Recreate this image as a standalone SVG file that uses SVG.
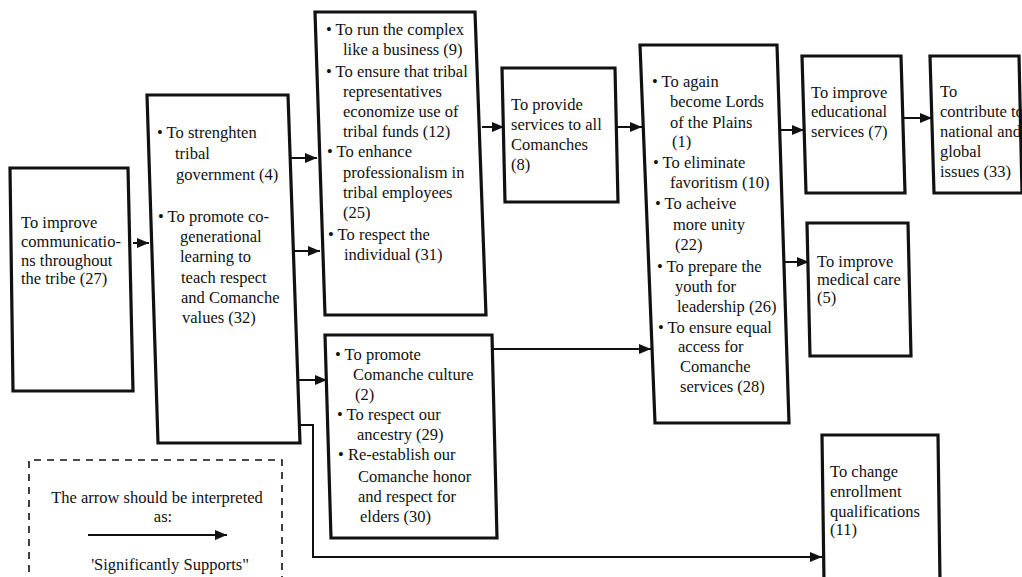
<svg xmlns="http://www.w3.org/2000/svg" width="1022" height="577" viewBox="0 0 1022 577">
<style>
.box{fill:#fff;stroke:#111;stroke-width:3.2;stroke-linejoin:miter}
.t{font-family:"Liberation Serif","Times New Roman",serif;font-size:16.5px;fill:#111}
.c{fill:none;stroke:#111;stroke-width:2;marker-end:url(#ah)}
.leg{fill:none;stroke:#111;stroke-width:1.6;stroke-dasharray:7 6}
</style>
<defs>
<marker id="ah" markerUnits="userSpaceOnUse" markerWidth="12" markerHeight="10" refX="12" refY="5" orient="auto">
<path d="M0,0 L12,5 L0,10 z" fill="#111"/>
</marker>
</defs>
<rect width="1022" height="577" fill="#fff"/>

<g id="connectors">
<path class="c" d="M133,243 H149"/>
<path class="c" d="M290,158 H317"/>
<path class="c" d="M294,251 H320"/>
<path class="c" d="M298,380 H327"/>
<path class="c" d="M300,425 H313 V557 H822"/>
<path class="c" d="M482,127 H504"/>
<path class="c" d="M617,127 H642"/>
<path class="c" d="M493,349 H651"/>
<path class="c" d="M780,130 H804"/>
<path class="c" d="M785,262 H809"/>
<path class="c" d="M904,118 H932"/>
</g>

<g id="node-communications">
<polygon class="box" points="10,168 128,168 133,391 13,391"/>
<text class="t"><tspan x="21" y="228">To improve</tspan><tspan x="21" y="247">communicatio-</tspan><tspan x="21" y="266">ns throughout</tspan><tspan x="21" y="284">the tribe (27)</tspan></text>
</g>

<g id="node-government">
<polygon class="box" points="147,95 288,95 300,443 158,443"/>
<text class="t"><tspan x="157" y="138">• To strenghten</tspan><tspan x="175" y="159">tribal</tspan><tspan x="176" y="180">government (4)</tspan><tspan x="158" y="222">• To promote co-</tspan><tspan x="180" y="242">generational</tspan><tspan x="180" y="262">learning to</tspan><tspan x="181" y="283">teach respect</tspan><tspan x="181" y="303">and Comanche</tspan><tspan x="182" y="323">values (32)</tspan></text>
</g>

<g id="node-business">
<polygon class="box" points="315,12 475,12 486,315 325,315"/>
<text class="t"><tspan x="326" y="35">• To run the complex</tspan><tspan x="343" y="55">like a business (9)</tspan><tspan x="326" y="77">• To ensure that tribal</tspan><tspan x="343" y="97">representatives</tspan><tspan x="343" y="117">economize use of</tspan><tspan x="343" y="137">tribal funds (12)</tspan><tspan x="327" y="157">• To enhance</tspan><tspan x="343" y="178">professionalism in</tspan><tspan x="343" y="198">tribal employees</tspan><tspan x="343" y="218">(25)</tspan><tspan x="328" y="240">• To respect the</tspan><tspan x="344" y="260">individual (31)</tspan></text>
</g>

<g id="node-services">
<polygon class="box" points="502,68 615,68 618,202 505,202"/>
<text class="t"><tspan x="511" y="110">To provide</tspan><tspan x="511" y="130">services to all</tspan><tspan x="511" y="150">Comanches</tspan><tspan x="511" y="170">(8)</tspan></text>
</g>

<g id="node-lords">
<polygon class="box" points="640,45 777,45 789,423 655,423"/>
<text class="t"><tspan x="652" y="87">• To again</tspan><tspan x="670" y="107">become Lords</tspan><tspan x="670" y="128">of the Plains</tspan><tspan x="672" y="147">(1)</tspan><tspan x="653" y="168">• To eliminate</tspan><tspan x="670" y="188">favoritism (10)</tspan><tspan x="655" y="209">• To acheive</tspan><tspan x="673" y="230">more unity</tspan><tspan x="675" y="250">(22)</tspan><tspan x="657" y="272">• To prepare the</tspan><tspan x="675" y="292">youth for</tspan><tspan x="677" y="312">leadership (26)</tspan><tspan x="658" y="333">• To ensure equal</tspan><tspan x="678" y="352">access for</tspan><tspan x="680" y="372">Comanche</tspan><tspan x="680" y="392">services (28)</tspan></text>
</g>

<g id="node-educational">
<polygon class="box" points="802,56 901,56 905,193 806,193"/>
<text class="t"><tspan x="811" y="98">To improve</tspan><tspan x="811" y="117">educational</tspan><tspan x="811" y="137">services (7)</tspan></text>
</g>

<g id="node-global">
<polygon class="box" points="930,56 1019,56 1022,193 934,193"/>
<text class="t"><tspan x="940" y="97">To</tspan><tspan x="940" y="117">contribute to</tspan><tspan x="940" y="137">national and</tspan><tspan x="940" y="157">global</tspan><tspan x="940" y="177">issues (33)</tspan></text>
</g>

<g id="node-medical">
<polygon class="box" points="807,223 908,223 911,356 810,356"/>
<text class="t"><tspan x="817" y="267">To improve</tspan><tspan x="817" y="285">medical care</tspan><tspan x="817" y="303">(5)</tspan></text>
</g>

<g id="node-culture">
<polygon class="box" points="325,335 492,335 497,538 331,538"/>
<text class="t"><tspan x="335" y="360">• To promote</tspan><tspan x="353" y="380">Comanche culture</tspan><tspan x="355" y="400">(2)</tspan><tspan x="337" y="420">• To respect our</tspan><tspan x="357" y="440">ancestry (29)</tspan><tspan x="338" y="460">• Re-establish our</tspan><tspan x="358" y="482">Comanche honor</tspan><tspan x="358" y="502">and respect for</tspan><tspan x="360" y="522">elders (30)</tspan></text>
</g>

<g id="node-enrollment">
<polygon class="box" points="822,435 938,435 940,582 824,582"/>
<text class="t"><tspan x="830" y="477">To change</tspan><tspan x="830" y="497">enrollment</tspan><tspan x="830" y="517">qualifications</tspan><tspan x="830" y="535">(11)</tspan></text>
</g>

<g id="legend">
<polyline class="leg" points="29,585 29,460 282,460 282,585"/>
<text class="t" text-anchor="middle"><tspan x="157" y="503">The arrow should be interpreted</tspan><tspan x="163" y="522">as:</tspan></text>
<path class="c" d="M88,535 H227"/>
<text class="t" x="170" y="570" text-anchor="middle">'Significantly Supports"</text>
</g>
</svg>
